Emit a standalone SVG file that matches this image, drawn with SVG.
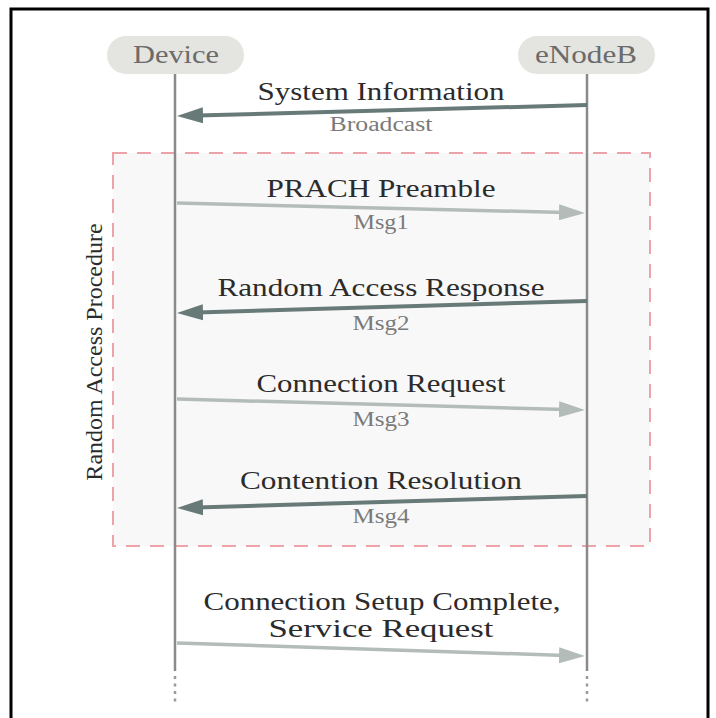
<svg xmlns="http://www.w3.org/2000/svg" width="716" height="718" viewBox="0 0 716 718">
  <style>
    .lbl { font-family: "Liberation Serif", "Times New Roman", serif; font-size: 25px; fill: #2b2b2b; text-anchor: middle; }
    .side { font-family: "Liberation Serif", "Times New Roman", serif; font-size: 24px; fill: #2b2b2b; text-anchor: middle; }
    .sub { font-family: "Liberation Serif", "Times New Roman", serif; font-size: 20px; fill: #7a7a7a; text-anchor: middle; }
    .actor { font-family: "Liberation Serif", "Times New Roman", serif; font-size: 25px; fill: #6b6b6b; text-anchor: middle; }
    .pill { fill: #e4e5e0; }
    .life { stroke: #8a8a8a; stroke-width: 2.5; fill: none; }
    .dots { stroke: #9a9a9a; stroke-width: 2.5; stroke-dasharray: 3 4.5; fill: none; }
    .dark { stroke: #687a77; stroke-width: 4; fill: none; marker-end: url(#headDark); }
    .light { stroke: #b3bcb8; stroke-width: 3.5; fill: none; marker-end: url(#headLight); }
  </style>
  <defs>
    <marker id="headDark" markerUnits="userSpaceOnUse" markerWidth="30" markerHeight="20" viewBox="0 -10 30 20" refX="6" refY="0" orient="auto">
      <path d="M0,-8 L26,0 L0,8 z" fill="#687a77"/>
    </marker>
    <marker id="headLight" markerUnits="userSpaceOnUse" markerWidth="30" markerHeight="20" viewBox="0 -10 30 20" refX="6" refY="0" orient="auto">
      <path d="M0,-8 L26,0 L0,8 z" fill="#b3bcb8"/>
    </marker>
  </defs>

  <rect x="0" y="0" width="716" height="718" fill="#ffffff"/>
  <path d="M11,718 V9 H708 V718" fill="none" stroke="#000000" stroke-width="3"/>

  <g id="group-rap">
    <rect x="113" y="153" width="537" height="393" fill="#f8f8f8" stroke="#eea3aa" stroke-width="2" stroke-dasharray="14 10"/>
    <text class="side" transform="translate(102,352) rotate(-90)" x="0" y="0">Random Access Procedure</text>
  </g>

  <g id="device">
    <rect class="pill" x="107" y="36" width="137" height="38" rx="19"/>
    <text class="actor" x="176" y="63" textLength="86" lengthAdjust="spacingAndGlyphs">Device</text>
    <line class="life" x1="175" y1="74" x2="175" y2="671"/>
    <line class="dots" x1="175" y1="676" x2="175" y2="704"/>
  </g>

  <g id="enodeb">
    <rect class="pill" x="518" y="36" width="137" height="38" rx="19"/>
    <text class="actor" x="586" y="63" textLength="102" lengthAdjust="spacingAndGlyphs">eNodeB</text>
    <line class="life" x1="587" y1="74" x2="587" y2="671"/>
    <line class="dots" x1="587" y1="676" x2="587" y2="704"/>
  </g>

  <g id="connectors">
    <line class="dark" x1="587" y1="105" x2="197" y2="115.5"/>
    <line class="light" x1="177" y1="203" x2="565" y2="212.5"/>
    <line class="dark" x1="587" y1="301" x2="197" y2="312.4"/>
    <line class="light" x1="177" y1="399" x2="565" y2="409.5"/>
    <line class="dark" x1="587" y1="496" x2="197" y2="507.4"/>
    <line class="light" x1="177" y1="643" x2="565" y2="655.4"/>
  </g>

  <g id="labels">
    <text class="lbl" x="381" y="100" textLength="247" lengthAdjust="spacingAndGlyphs">System Information</text>
    <text class="sub" x="381" y="131" textLength="103" lengthAdjust="spacingAndGlyphs">Broadcast</text>
    <text class="lbl" x="381" y="197" textLength="229" lengthAdjust="spacingAndGlyphs">PRACH Preamble</text>
    <text class="sub" x="381" y="229" textLength="55" lengthAdjust="spacingAndGlyphs">Msg1</text>
    <text class="lbl" x="381" y="296" textLength="327" lengthAdjust="spacingAndGlyphs">Random Access Response</text>
    <text class="sub" x="381" y="330" textLength="57" lengthAdjust="spacingAndGlyphs">Msg2</text>
    <text class="lbl" x="381" y="392" textLength="249" lengthAdjust="spacingAndGlyphs">Connection Request</text>
    <text class="sub" x="381" y="426" textLength="57" lengthAdjust="spacingAndGlyphs">Msg3</text>
    <text class="lbl" x="381" y="489" textLength="282" lengthAdjust="spacingAndGlyphs">Contention Resolution</text>
    <text class="sub" x="381" y="523" textLength="57" lengthAdjust="spacingAndGlyphs">Msg4</text>
    <text class="lbl" x="382" y="610" textLength="357" lengthAdjust="spacingAndGlyphs">Connection Setup Complete,</text>
    <text class="lbl" x="381" y="637" textLength="225" lengthAdjust="spacingAndGlyphs">Service Request</text>
  </g>
</svg>
